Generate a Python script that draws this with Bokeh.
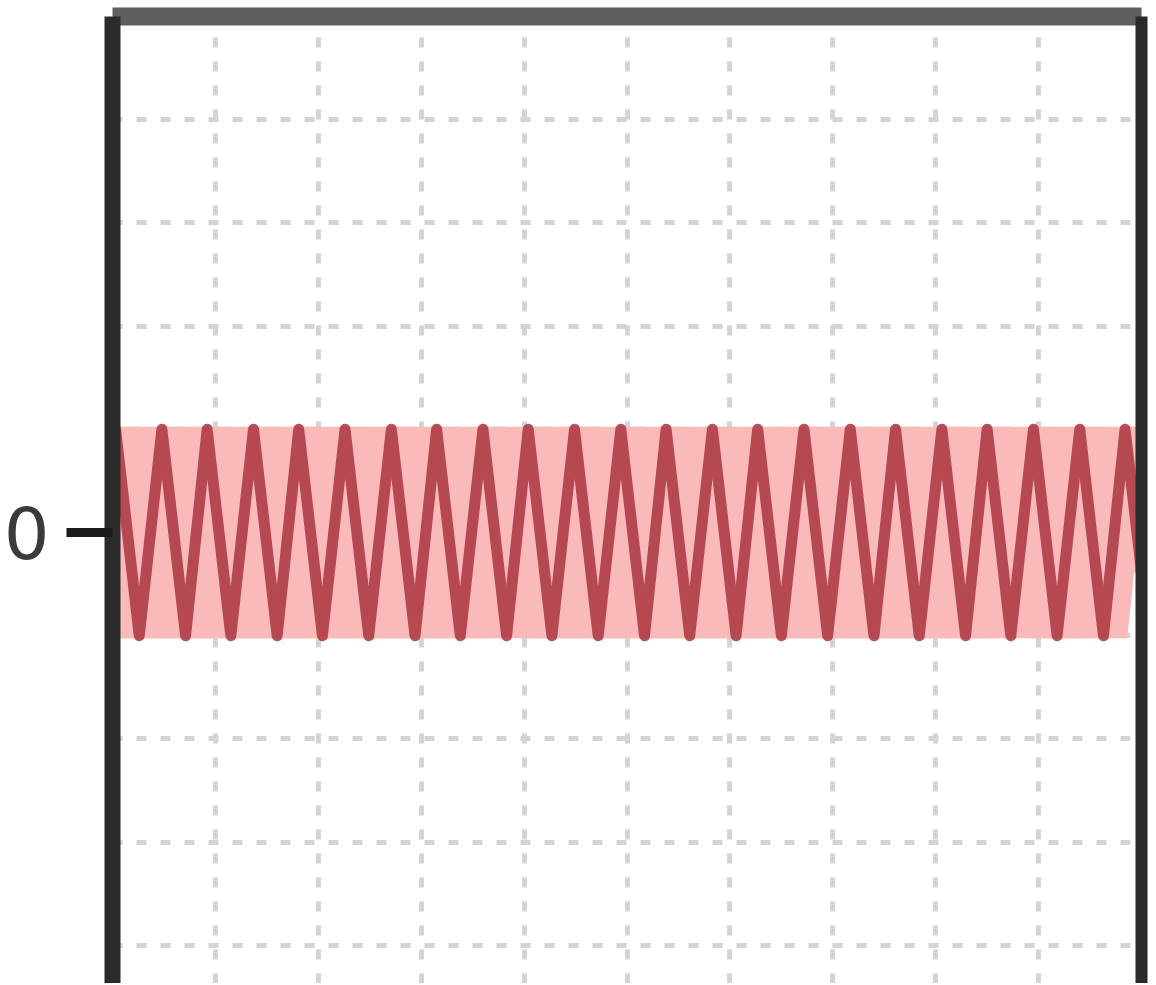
from bokeh.plotting import figure
from bokeh.models import Range1d, FixedTicker, LinearAxis
from bokeh.embed import file_html
from bokeh.resources import INLINE

# Signal vertices (zigzag oscillating between +1 and -1)
signal_x = [0.00, 0.03, 0.26, 0.48, 0.71, 0.92, 1.15, 1.37, 1.60, 1.81,
            2.04, 2.26, 2.49, 2.71, 2.94, 3.15, 3.38, 3.60, 3.83, 4.04,
            4.27, 4.49, 4.72, 4.94, 5.17, 5.38, 5.61, 5.83, 6.06, 6.27,
            6.50, 6.72, 6.95, 7.17, 7.40, 7.61, 7.84, 8.06, 8.29, 8.50,
            8.73, 8.95, 9.18, 9.40, 9.63, 9.84, 10.00]
signal_y = [0.73, 1.0, -1.0, 1.0, -1.0, 1.0, -1.0, 1.0, -1.0, 1.0,
            -1.0, 1.0, -1.0, 1.0, -1.0, 1.0, -1.0, 1.0, -1.0, 1.0,
            -1.0, 1.0, -1.0, 1.0, -1.0, 1.0, -1.0, 1.0, -1.0, 1.0,
            -1.0, 1.0, -1.0, 1.0, -1.0, 1.0, -1.0, 1.0, -1.0, 1.0,
            -1.0, 1.0, -1.0, 1.0, -1.0, 1.0, -0.38]

# Axis ticks / grid positions
y_ticks = [0]
y_tick_labels = ["0"]
x_grid = [1, 2, 3, 4, 5, 6, 7, 8, 9]
y_grid = [-4, -3, -2, -1, 0, 1, 2, 3, 4]

p = figure(width=1152, height=983, output_backend="svg", toolbar_location=None,
           x_range=Range1d(0, 10), y_range=Range1d(-4.37, 5.0),
           x_axis_location="above", y_axis_location="left",
           min_border_left=111, min_border_right=11, min_border_top=16,
           min_border_bottom=0)
p.outline_line_color = None
p.background_fill_color = "white"
p.border_fill_color = "white"

# grids
p.xgrid.ticker = FixedTicker(ticks=x_grid)
p.ygrid.ticker = FixedTicker(ticks=y_grid)
for g in (p.xgrid, p.ygrid):
    g.grid_line_color = "#d4d4d4"
    g.grid_line_width = 5
    g.grid_line_dash = "10 14"

# top axis = top border only
top = p.xaxis[0]
top.ticker = FixedTicker(ticks=[])
top.axis_line_width = 18
top.axis_line_color = "#5e5e5e"
top.major_tick_out = 0
top.major_tick_in = 0
top.minor_tick_out = 0
top.minor_tick_in = 0
top.major_label_text_font_size = "0px"
top.major_label_standoff = 0

# left axis
left = p.yaxis[0]
left.ticker = FixedTicker(ticks=y_ticks)
left.major_label_overrides = {t: l for t, l in zip(y_ticks, y_tick_labels)}
left.axis_line_width = 16
left.axis_line_color = "#2b2b2b"
left.major_tick_out = 46
left.major_tick_in = 0
left.major_tick_line_width = 9
left.major_tick_line_color = "#1c1c1c"
left.minor_tick_out = 0
left.minor_tick_in = 0
left.major_label_text_font = "DejaVu Sans"
left.major_label_text_font_size = "72px"
left.major_label_text_color = "#3a3a3a"
left.major_label_standoff = 17

# right border
right = LinearAxis(ticker=FixedTicker(ticks=[]), axis_line_width=12,
                   axis_line_color="#2a2a2a", major_tick_out=0, major_tick_in=0,
                   minor_tick_out=0, minor_tick_in=0,
                   major_label_text_font_size="0px", major_label_standoff=0)
p.add_layout(right, "right")

# signal: soft pink body + dark red strokes
p.line(signal_x, signal_y, line_width=48, line_color="#fbbaba", line_join="bevel")
p.line(signal_x, signal_y, line_width=11, line_color="#a9343f", line_alpha=0.85,
       line_join="round")

open("out.html", "w").write(file_html(p, INLINE))
